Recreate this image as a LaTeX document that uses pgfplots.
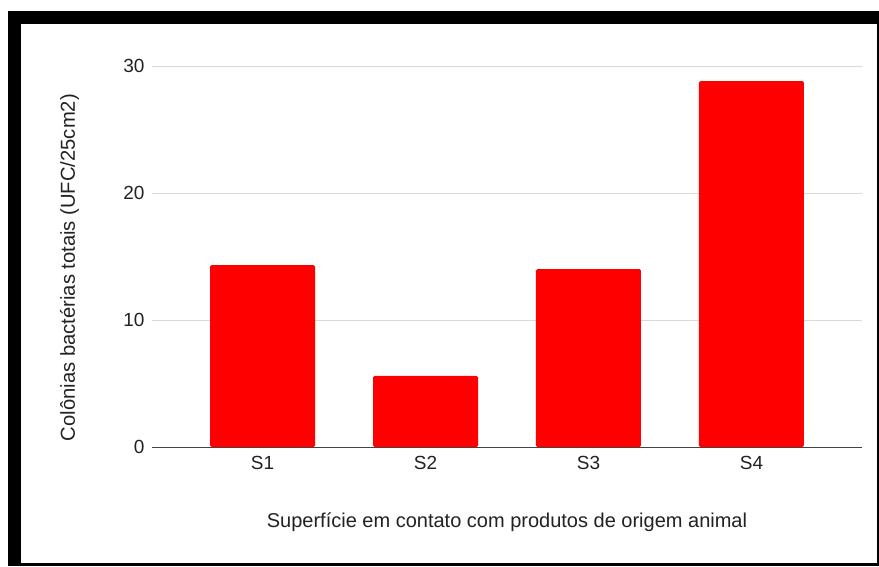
\documentclass[border=0pt]{standalone}
\usepackage{pgfplots}
\pgfplotsset{compat=1.18}
\usepackage{fontspec}
\setmainfont{Liberation Sans}
\definecolor{txt}{HTML}{222222}
\definecolor{gridc}{HTML}{D9D9D9}
\begin{document}
\begin{tikzpicture}
\useasboundingbox (0pt,0pt) rectangle (879pt,566pt);
\fill[white] (0pt,0pt) rectangle (879pt,566pt);
\fill[black] (8pt,0pt) rectangle (21pt,555pt);
\fill[black] (8pt,542pt) rectangle (879pt,555pt);
\fill[black] (877pt,0pt) rectangle (879pt,555pt);
\fill[black] (8pt,0pt) rectangle (879pt,3pt);
\begin{axis}[
  at={(152pt,119pt)}, anchor=south west,
  scale only axis, width=710pt, height=381pt,
  xmin=-0.678, xmax=3.678, ymin=0, ymax=30,
  xtick={0,1,2,3}, xticklabels={S1,S2,S3,S4},
  ytick={0,10,20,30},
  axis line style={draw=none},
  major tick length=0pt,
  ymajorgrids, grid style={gridc, line width=1pt},
  extra y ticks={0}, extra y tick labels={},
  extra y tick style={grid style={txt!85, line width=1pt}},
  tick label style={font=\fontsize{19}{21}\selectfont, text=txt},
  /pgf/number format/assume math mode=true,
  yticklabel style={xshift=-4pt},
  xticklabel style={yshift=-6pt},
  xlabel={Superfície em contato com produtos de origem animal},
  ylabel={Colônias bactérias totais (UFC/25cm2)},
  xlabel style={font=\fontsize{20}{22}\selectfont, text=txt, at={(axis description cs:0.5,-0.197)}, anchor=center},
  ylabel style={font=\fontsize{20.2}{22}\selectfont, text=txt, at={(axis description cs:-0.116,0.471)}, anchor=center, rotate=0},
  ybar, bar width=105pt,
]
\addplot[fill=red, draw=none, rounded corners=1.5pt] coordinates {(0,14.33) (1,5.6) (2,14.0) (3,28.8)};
\end{axis}
\end{tikzpicture}
\end{document}
